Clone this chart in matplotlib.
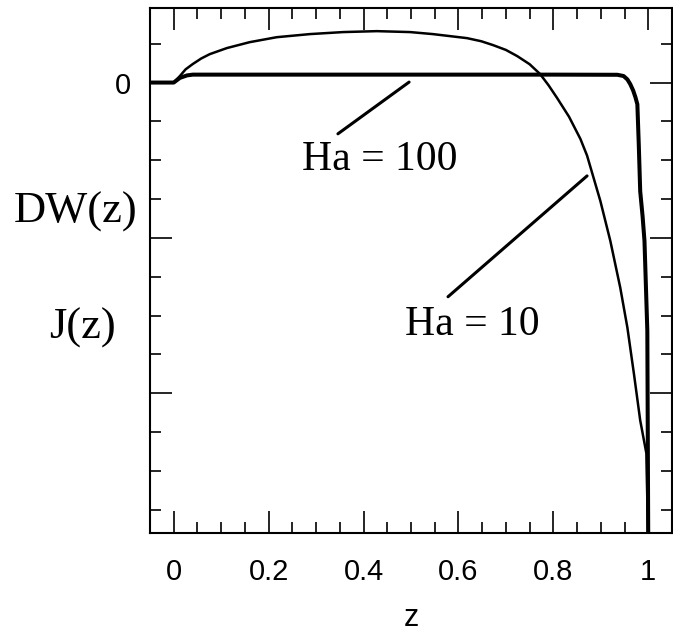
import matplotlib.pyplot as plt
from matplotlib.ticker import MultipleLocator, FixedLocator

# Ha = 10 curve
z_ha10 = [-0.05, 0.0, 0.013, 0.025, 0.040, 0.058, 0.076, 0.112, 0.160, 0.217, 0.287,
          0.357, 0.428, 0.498, 0.546, 0.618, 0.648, 0.673, 0.700, 0.724, 0.750, 0.772,
          0.790, 0.808, 0.833, 0.857, 0.871, 0.899, 0.920, 0.941, 0.956, 0.970, 0.983,
          0.996, 1.0]
v_ha10 = [0.0, 0.0, 0.042, 0.085, 0.119, 0.155, 0.183, 0.222, 0.260, 0.292, 0.312,
          0.325, 0.331, 0.325, 0.312, 0.286, 0.266, 0.241, 0.210, 0.170, 0.118, 0.055,
          -0.018, -0.100, -0.220, -0.363, -0.470, -0.762, -1.019, -1.321, -1.578, -1.880,
          -2.175, -2.387, -3.0]

# Ha = 100 curve (thick)
z_ha100 = [-0.05, 0.0, 0.013, 0.028, 0.040, 0.2, 0.5, 0.8, 0.935, 0.948, 0.956, 0.962,
           0.968, 0.973, 0.977, 0.980, 0.983, 0.988, 0.992, 0.998, 1.0]
v_ha100 = [0.0, 0.0, 0.03, 0.046, 0.051, 0.051, 0.051, 0.051, 0.050, 0.042, 0.020, -0.010,
           -0.050, -0.095, -0.140, -0.400, -0.700, -0.860, -1.019, -1.597, -3.0]

xtick_vals = [0, 0.2, 0.4, 0.6, 0.8, 1.0]
xtick_text = ['0', '0.2', '0.4', '0.6', '0.8', '1']

fig = plt.figure(figsize=(6.73, 6.35), dpi=100)
ax = fig.add_axes([150 / 673, 1 - 533 / 635, 522 / 673, 525 / 635])

ax.plot(z_ha10, v_ha10, color='black', lw=1.8, solid_joinstyle='round')
ax.plot(z_ha100, v_ha100, color='black', lw=2.9, solid_joinstyle='round')

ax.set_xlim(-0.05, 1.05)
ax.set_ylim(-2.9, 0.48)

ax.xaxis.set_major_locator(FixedLocator(xtick_vals))
ax.set_xticklabels(xtick_text, family='Liberation Sans', fontsize=21)
ax.xaxis.set_minor_locator(MultipleLocator(0.05))
ax.yaxis.set_minor_locator(MultipleLocator(0.25))
ax.set_yticks([-2, -1, 0])
ax.set_yticklabels(['', '', '0'], family='Liberation Sans', fontsize=21)

ax.tick_params(which='both', direction='in', top=True, right=True, width=1.2, color='black')
ax.tick_params(which='major', length=16, pad=18)
ax.tick_params(axis='y', which='major', pad=14)
ax.tick_params(which='minor', length=8)
for s in ax.spines.values():
    s.set_linewidth(1.5)

ax.set_xlabel('z', family='Liberation Sans', fontsize=22, labelpad=12)

# axis labels on the left
fig.text(76 / 673, 1 - 212 / 635, 'DW(z)', family='Liberation Serif', fontsize=32,
         ha='center', va='center')
fig.text(82 / 673, 1 - 328 / 635, 'J(z)', family='Liberation Serif', fontsize=32,
         ha='center', va='center')

# curve labels with pointer lines
ax.text(0.435, -0.50, 'Ha = 100', family='Liberation Serif', fontsize=30,
        ha='center', va='center')
ax.annotate('', xy=(0.496, 0.003), xytext=(0.346, -0.33),
            arrowprops=dict(arrowstyle='-', lw=2.2, color='black', shrinkA=0, shrinkB=0))
ax.text(0.629, -1.56, 'Ha = 10', family='Liberation Serif', fontsize=30,
        ha='center', va='center')
ax.annotate('', xy=(0.871, -0.601), xytext=(0.578, -1.379),
            arrowprops=dict(arrowstyle='-', lw=2.2, color='black', shrinkA=0, shrinkB=0))

fig.savefig('out.png', dpi=100)
